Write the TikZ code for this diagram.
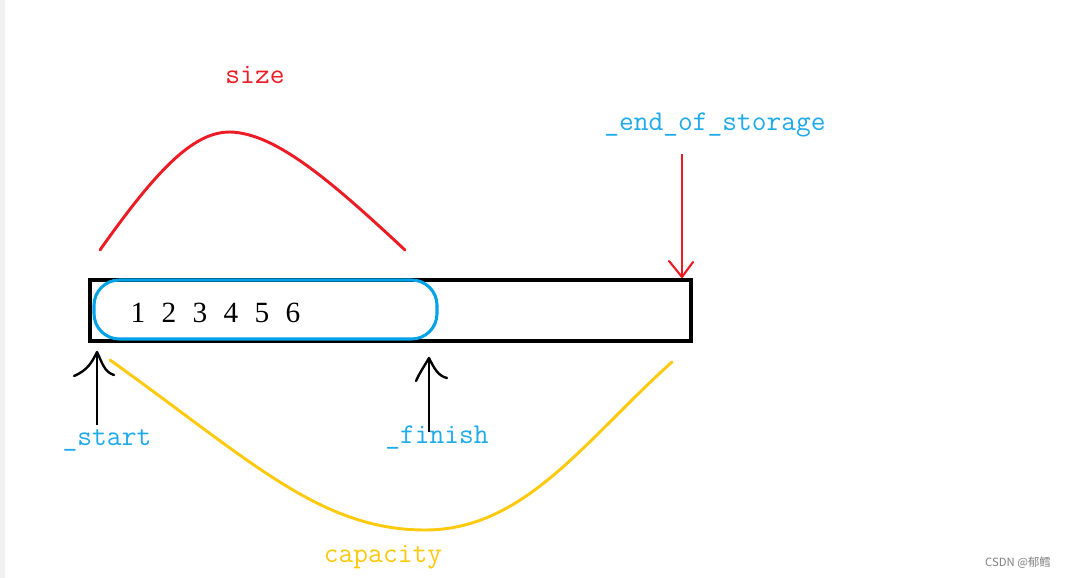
\documentclass[tikz,border=0pt]{standalone}
\usepackage{fontspec}
\setmainfont{Liberation Serif}
\newfontfamily\cjk{Noto Sans CJK SC}
\definecolor{paintred}{RGB}{237,28,36}
\definecolor{paintblue}{RGB}{0,162,232}
\definecolor{paintgold}{RGB}{255,201,14}
\definecolor{textblue}{RGB}{30,170,235}
\tikzset{
  lbl/.style={font=\ttfamily\fontsize{21.5}{24}\selectfont, inner sep=0pt},
  hand/.style={line width=2.2pt, line cap=round, line join=round},
}
\begin{document}
\begin{tikzpicture}[x=0.75pt, y=-0.75pt]
    \useasboundingbox (0,0) rectangle (1068,578);
    \fill[gray!12] (0,0) rectangle (5,578);
    % the storage block
    \draw[line width=2.3pt] (90,280) rectangle (691,341);
    \draw[paintblue, line width=2.3pt, rounded corners=19pt] (94,280) rectangle (437,339);
    \foreach \d [count=\i from 0] in {1,...,6}
        \node[font=\fontsize{22}{24}\selectfont, inner sep=0pt] (n\d) at (138+31*\i,313) {\d};
    % labels
    \node[lbl, text=paintred] (size) at (255,75) {size};
    \node[lbl, text=textblue] (eos) at (715,125) {\_end\_of\_storage};
    \node[lbl, text=textblue] (start) at (107,440) {\_start};
    \node[lbl, text=textblue] (finish) at (437,438) {\_finish};
    \node[lbl, text=paintgold] (cap) at (383,557) {capacity};
    \node[font=\cjk\fontsize{8.5}{10}\selectfont, text=gray, inner sep=0pt] (mark) at (1018,563) {CSDN @郁鳕};
    % size arc
    \coordinate (sl) at (100,250);
    \coordinate (stop) at (230,132);
    \coordinate (sr) at (405,250);
    \draw[paintred, hand] (sl) .. controls (160,165) and (195,132) .. (stop)
        .. controls (275,133) and (330,180) .. (sr);
    % capacity arc
    \coordinate (cl) at (110,360);
    \coordinate (cbot) at (425,530);
    \coordinate (cr) at (672,362);
    \draw[paintgold, hand] (cl) .. controls (250,460) and (320,530) .. (cbot)
        .. controls (525,530) and (585,440) .. (cr);
    % end of storage pointer
    \coordinate (etail) at (682,154);
    \coordinate (etip) at (682,277);
    \draw[paintred, line width=1.6pt] (etail) -- (etip);
    \draw[paintred, hand, line width=1.6pt] (669,261) -- (etip) -- (693,262);
    % start pointer
    \coordinate (stail) at (97,425);
    \coordinate (stip) at (97,352);
    \draw[line width=1.8pt] (stail) -- (stip);
    \draw[hand, line width=1.8pt] (74,376) .. controls (88,370) and (92,362) .. (stip)
        .. controls (102,362) and (104,372) .. (114,375);
    % finish pointer
    \coordinate (ftail) at (429,432);
    \coordinate (ftip) at (429,358);
    \draw[line width=1.8pt] (ftail) -- (ftip);
    \draw[hand, line width=1.8pt] (416,381) .. controls (420,372) and (425,365) .. (ftip)
        .. controls (434,368) and (438,376) .. (447,378);
\end{tikzpicture}
\end{document}
